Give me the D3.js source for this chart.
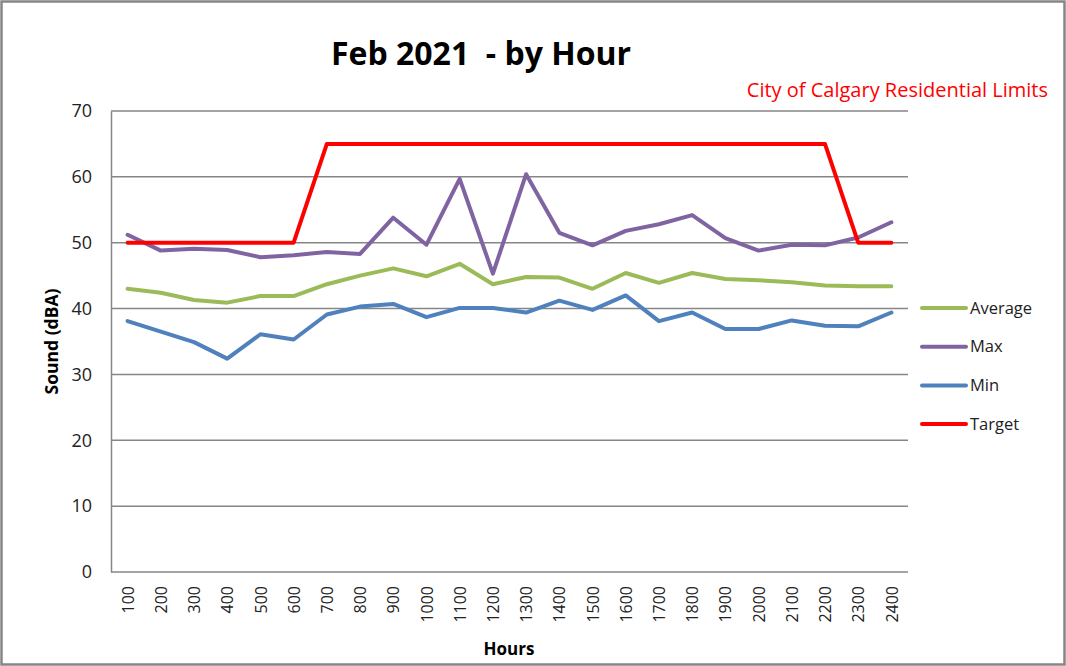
<!DOCTYPE html>
<html>
<head>
<meta charset="utf-8">
<script src="https://cdn.jsdelivr.net/npm/d3@7"></script>
<style>
  body { margin: 0; background: #fff; }
  text { font-family: "Open Sans", sans-serif; }
</style>
</head>
<body>
<svg id="chart"></svg>
<script>
// DATA
const HOURS = ["100", "200", "300", "400", "500", "600", "700", "800", "900", "1000", "1100", "1200",
  "1300", "1400", "1500", "1600", "1700", "1800", "1900", "2000", "2100", "2200", "2300", "2400"]
const AVERAGE = [43.0, 42.4, 41.3, 40.9, 41.9, 41.9, 43.7, 45.0, 46.1, 44.9, 46.8, 43.7,
  44.8, 44.7, 43.0, 45.4, 43.9, 45.4, 44.5, 44.3, 44.0, 43.5, 43.4, 43.4]
const MAX = [51.2, 48.8, 49.1, 48.9, 47.8, 48.1, 48.6, 48.3, 53.8, 49.7, 59.7, 45.3,
  60.4, 51.5, 49.6, 51.8, 52.8, 54.2, 50.7, 48.8, 49.7, 49.6, 50.8, 53.1]
const MIN = [38.1, 36.5, 34.9, 32.4, 36.1, 35.3, 39.1, 40.3, 40.7, 38.7, 40.1, 40.1,
  39.4, 41.2, 39.8, 42.0, 38.1, 39.4, 36.9, 36.9, 38.2, 37.4, 37.3, 39.4]
const TARGET = [50, 50, 50, 50, 50, 50, 65, 65, 65, 65, 65, 65,
  65, 65, 65, 65, 65, 65, 65, 65, 65, 65, 50, 50]
const Y_TICKS = [0, 10, 20, 30, 40, 50, 60, 70]

// SPACING
const WIDTH = 1066
const HEIGHT = 666
const PLOT_LEFT = 111
const PLOT_RIGHT = 908
const PLOT_TOP = 111
const PLOT_BOTTOM = 572
const LEGEND_X = 922
const LEGEND_Y = 308
const LEGEND_STEP = 38.7

// STYLE
const GRID_COLOR = "#868686"
const TEXT_COLOR = "#222"
const SERIES = [
  { name: "Average", values: AVERAGE, color: "#9BBB59" },
  { name: "Max", values: MAX, color: "#8064A2" },
  { name: "Min", values: MIN, color: "#4F81BD" },
  { name: "Target", values: TARGET, color: "#FF0000" },
]

const svg = d3.select("#chart")
  .attr("width", WIDTH)
  .attr("height", HEIGHT)

svg.append("rect")
  .attr("x", 1.5).attr("y", 1.5)
  .attr("width", WIDTH - 3).attr("height", HEIGHT - 3)
  .attr("fill", "#fff")
  .attr("stroke", GRID_COLOR)
  .attr("stroke-width", 2.5)

const x = d3.scalePoint()
  .domain(HOURS)
  .range([PLOT_LEFT, PLOT_RIGHT])
  .padding(0.5)

const y = d3.scaleLinear()
  .domain([0, 70])
  .range([PLOT_BOTTOM, PLOT_TOP])

// gridlines
svg.append("g")
  .selectAll("line")
  .data(Y_TICKS.filter(d => d > 0))
  .join("line")
  .attr("x1", PLOT_LEFT).attr("x2", PLOT_RIGHT)
  .attr("y1", d => y(d)).attr("y2", d => y(d))
  .attr("stroke", GRID_COLOR)
  .attr("stroke-width", 1.5)

// axes
const yAxis = svg.append("g")
  .attr("transform", `translate(${PLOT_LEFT},0)`)
  .call(d3.axisLeft(y).tickValues(Y_TICKS).tickSize(0).tickPadding(19))
yAxis.select(".domain").attr("stroke", GRID_COLOR).attr("stroke-width", 1.5)
yAxis.selectAll("text")
  .style("font-size", "18px")
  .attr("fill", TEXT_COLOR)

const xAxis = svg.append("g")
  .attr("transform", `translate(0,${PLOT_BOTTOM})`)
  .call(d3.axisBottom(x).tickSize(0))
xAxis.select(".domain").attr("stroke", GRID_COLOR).attr("stroke-width", 1.5)
  .attr("d", `M${PLOT_LEFT},0H${PLOT_RIGHT}`)
xAxis.selectAll("text")
  .attr("transform", "rotate(-90)")
  .attr("text-anchor", "end")
  .attr("x", -14)
  .attr("y", 0)
  .attr("dy", "0.35em")
  .style("font-size", "16px")
  .attr("fill", TEXT_COLOR)

// series lines
const line = d3.line()
  .x((_, i) => x(HOURS[i]))
  .y(d => y(d))

svg.append("g")
  .selectAll("path")
  .data(SERIES)
  .join("path")
  .attr("d", d => line(d.values))
  .attr("fill", "none")
  .attr("stroke", d => d.color)
  .attr("stroke-width", 4)
  .attr("stroke-linejoin", "round")
  .attr("stroke-linecap", "round")

// legend
const legend = svg.append("g")
  .selectAll("g")
  .data(SERIES)
  .join("g")
  .attr("transform", (_, i) => `translate(${LEGEND_X},${LEGEND_Y + i * LEGEND_STEP})`)

legend.append("line")
  .attr("x1", 0).attr("x2", 44)
  .attr("stroke", d => d.color)
  .attr("stroke-width", 4)
  .attr("stroke-linecap", "round")

legend.append("text")
  .attr("x", 48)
  .attr("dy", "0.35em")
  .style("font-size", "16.5px")
  .attr("fill", TEXT_COLOR)
  .text(d => d.name)

// titles
svg.append("text")
  .attr("x", 481)
  .attr("y", 65)
  .attr("text-anchor", "middle")
  .style("font-size", "32px")
  .style("font-weight", "bold")
  .style("white-space", "pre")
  .attr("fill", "#000")
  .text("Feb 2021  - by Hour")

svg.append("text")
  .attr("x", 1048)
  .attr("y", 97)
  .attr("text-anchor", "end")
  .style("font-size", "20px")
  .attr("fill", "#FF0000")
  .text("City of Calgary Residential Limits")

svg.append("text")
  .attr("transform", `translate(58,${(PLOT_TOP + PLOT_BOTTOM) / 2}) rotate(-90)`)
  .attr("text-anchor", "middle")
  .style("font-size", "17.5px")
  .style("font-weight", "bold")
  .attr("fill", "#000")
  .text("Sound (dBA)")

svg.append("text")
  .attr("x", 509)
  .attr("y", 655)
  .attr("text-anchor", "middle")
  .style("font-size", "17px")
  .style("font-weight", "bold")
  .attr("fill", "#000")
  .text("Hours")
</script>
</body>
</html>
